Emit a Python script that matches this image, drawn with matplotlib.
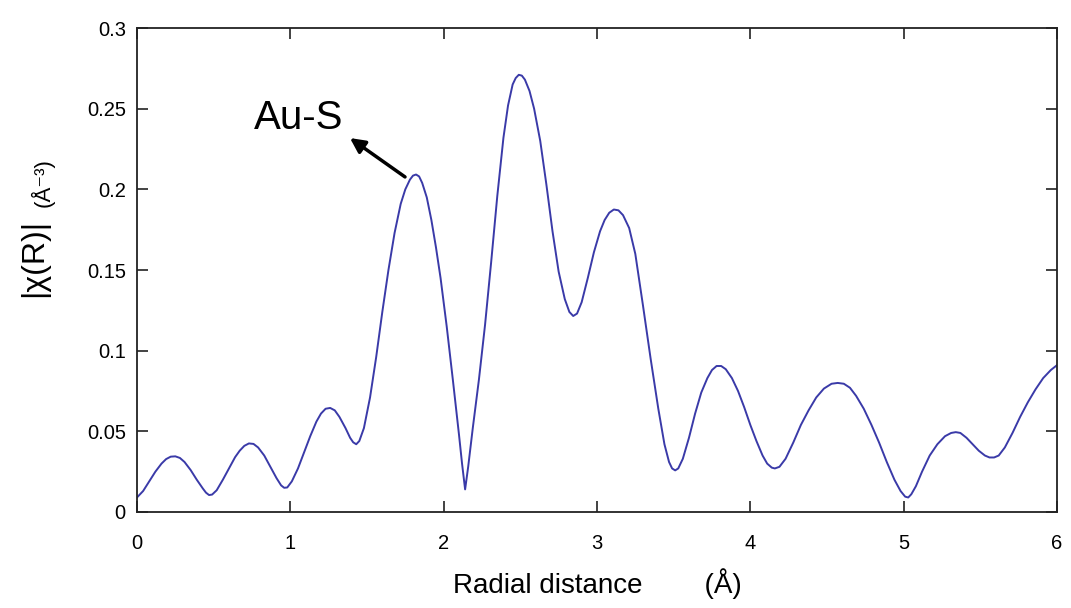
import numpy as np
import matplotlib
matplotlib.use("Agg")
import matplotlib.pyplot as plt

plt.rcParams['font.family'] = ['Liberation Sans', 'DejaVu Sans']

# radial distance (A) and |chi(R)|
r = [0.00, 0.04, 0.08, 0.12, 0.16, 0.19, 0.22, 0.25, 0.28, 0.31, 0.35, 0.39,
     0.43, 0.45, 0.47, 0.49, 0.52, 0.56, 0.60, 0.64, 0.67, 0.70, 0.73, 0.76,
     0.79, 0.83, 0.87, 0.91, 0.94, 0.96, 0.98, 1.01, 1.05, 1.09, 1.13, 1.17,
     1.20, 1.23, 1.26, 1.29, 1.32, 1.36, 1.39, 1.41, 1.43, 1.45, 1.48, 1.52,
     1.56, 1.60, 1.64, 1.68, 1.72, 1.75, 1.78, 1.80, 1.82, 1.84, 1.86, 1.89,
     1.92, 1.95, 1.98, 2.02, 2.06, 2.10, 2.12, 2.14, 2.16, 2.19, 2.23, 2.27,
     2.31, 2.35, 2.39, 2.42, 2.45, 2.47, 2.49, 2.51, 2.53, 2.56, 2.59, 2.63,
     2.67, 2.71, 2.75, 2.79, 2.82, 2.845, 2.87, 2.90, 2.94, 2.98, 3.02, 3.05,
     3.08, 3.11, 3.14, 3.17, 3.21, 3.25, 3.30, 3.35, 3.40, 3.44, 3.47, 3.49,
     3.51, 3.53, 3.56, 3.60, 3.64, 3.68, 3.72, 3.75, 3.78, 3.81, 3.84, 3.88,
     3.92, 3.96, 4.00, 4.04, 4.08, 4.11, 4.14, 4.16, 4.19, 4.23, 4.28, 4.33,
     4.38, 4.43, 4.48, 4.53, 4.57, 4.61, 4.65, 4.69, 4.74, 4.79, 4.84, 4.89,
     4.94, 4.98, 5.01, 5.03, 5.05, 5.08, 5.12, 5.17, 5.22, 5.27, 5.31, 5.34,
     5.37, 5.41, 5.45, 5.49, 5.53, 5.56, 5.59, 5.62, 5.66, 5.71, 5.76, 5.81,
     5.86, 5.91, 5.96, 6.00]
chi = [0.009, 0.013, 0.019, 0.025, 0.030, 0.0328, 0.0343, 0.0345, 0.0335,
       0.031, 0.026, 0.020, 0.0145, 0.012, 0.0105, 0.0108, 0.0135, 0.020,
       0.027, 0.034, 0.038, 0.041, 0.0425, 0.0422, 0.040, 0.035, 0.028, 0.021,
       0.0165, 0.015, 0.0152, 0.019, 0.027, 0.037, 0.047, 0.056, 0.061, 0.064,
       0.0645, 0.063, 0.059, 0.052, 0.046, 0.0432, 0.042, 0.044, 0.052, 0.071,
       0.096, 0.124, 0.150, 0.173, 0.191, 0.200, 0.206, 0.2085, 0.2092, 0.208,
       0.204, 0.195, 0.181, 0.164, 0.145, 0.115, 0.082, 0.048, 0.030, 0.014,
       0.028, 0.052, 0.082, 0.116, 0.155, 0.196, 0.232, 0.252, 0.265, 0.269,
       0.271, 0.2705, 0.268, 0.261, 0.250, 0.230, 0.203, 0.174, 0.149, 0.132,
       0.124, 0.1215, 0.123, 0.130, 0.145, 0.161, 0.174, 0.181, 0.1855, 0.1875,
       0.187, 0.184, 0.176, 0.160, 0.128, 0.095, 0.064, 0.042, 0.031, 0.027,
       0.0258, 0.027, 0.033, 0.046, 0.061, 0.074, 0.083, 0.088, 0.0905,
       0.0905, 0.0885, 0.083, 0.075, 0.065, 0.054, 0.044, 0.035, 0.030,
       0.0275, 0.027, 0.028, 0.033, 0.043, 0.054, 0.063, 0.071, 0.0765, 0.0795,
       0.080, 0.0795, 0.077, 0.072, 0.064, 0.054, 0.043, 0.031, 0.020, 0.013,
       0.0095, 0.009, 0.011, 0.016, 0.025, 0.035, 0.042, 0.047, 0.049, 0.0495,
       0.049, 0.046, 0.042, 0.038, 0.035, 0.0338, 0.0338, 0.035, 0.040, 0.049,
       0.059, 0.068, 0.076, 0.083, 0.088, 0.091]

xticks = [0, 1, 2, 3, 4, 5, 6]
yticks = [0, 0.05, 0.1, 0.15, 0.2, 0.25, 0.3]
ylabels = ['0', '0.05', '0.1', '0.15', '0.2', '0.25', '0.3']

fig = plt.figure(figsize=(10.71, 6.08), dpi=100)
ax = fig.add_axes([0.1279, 0.1579, 0.859, 0.796])

ax.plot(r, chi, color='#3a3aa8', lw=1.4)

ax.set_xlim(0, 6)
ax.set_ylim(0, 0.3)
ax.set_xticks(xticks)
ax.set_yticks(yticks)
ax.set_yticklabels(ylabels)
ax.tick_params(direction='in', length=8, width=1.2, top=True, right=True,
               labelsize=14.5, pad=8, color='#222222')
ax.tick_params(axis='x', pad=16)
for s in ax.spines.values():
    s.set_linewidth(1.3)
    s.set_color('#222222')

ax.set_xlabel('Radial distance        (Å)', fontsize=20, labelpad=11)
fig.text(0.032, 0.576, '|χ(R)|', rotation=90, fontsize=23, ha='center', va='center')
fig.text(0.040, 0.70, '(Å⁻³)', rotation=90, fontsize=16, ha='center', va='center')

# arrow from the first shell peak up to the label
ax.annotate('', xy=(1.389, 0.2318), xytext=(1.748, 0.2077),
            arrowprops=dict(arrowstyle='-|>', lw=2.5, color='k',
                            mutation_scale=22, shrinkA=0, shrinkB=0))
ax.text(1.056, 0.2445, 'Au-S', fontsize=29, ha='center', va='center')

fig.savefig('out.png', dpi=100)
